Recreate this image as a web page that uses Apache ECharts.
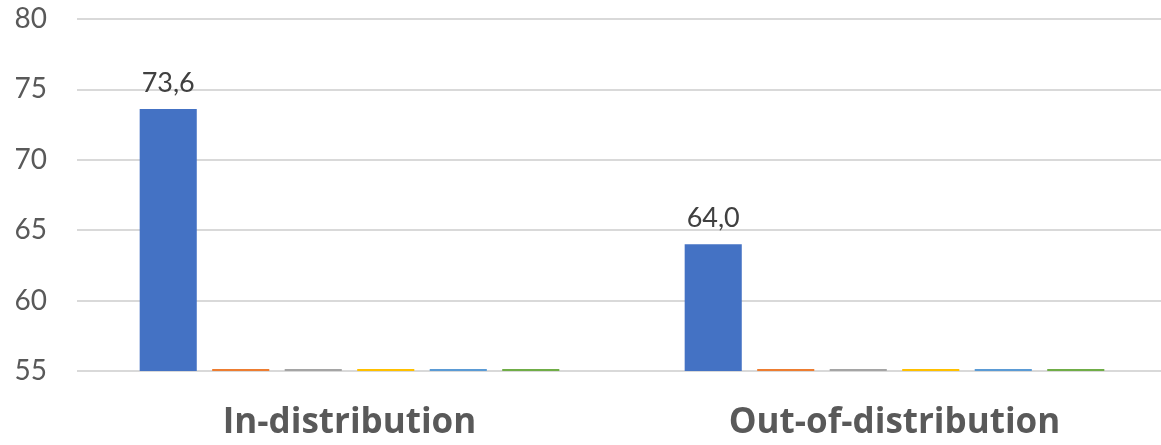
<!DOCTYPE html>
<html><head><meta charset="utf-8">
<script src="https://cdn.jsdelivr.net/npm/echarts@6/dist/echarts.min.js"></script>
<style>html,body{margin:0;padding:0;background:#fff;overflow:hidden}#c{width:1167px;height:445px}</style>
</head><body><div id="c"></div>
<script>
const categories = ['In-distribution', 'Out-of-distribution'];
const seriesA = [73.6, 64.0];
// remaining series sit at/below the axis minimum (drawn as thin lines at the baseline)
const seriesB = [0, 0];
const seriesC = [0, 0];
const seriesD = [0, 0];
const seriesE = [0, 0];
const seriesF = [0, 0];
const yTicks = [55, 60, 65, 70, 75, 80];

const colors = ['#4472C4', '#ED7D31', '#A5A5A5', '#FFC000', '#5B9BD5', '#70AD47'];
const font = 'Lato, "Open Sans", sans-serif';

const chart = echarts.init(document.getElementById('c'), null, {renderer: 'canvas'});
const minor = [seriesB, seriesC, seriesD, seriesE, seriesF].map((d, i) => ({
  type: 'bar', data: d, yAxisIndex: 1, barMinHeight: 2, clip: false,
  itemStyle: {color: colors[i + 1]}, barGap: '27%', barCategoryGap: '23%', z: 3
}));
chart.setOption({
  animation: false,
  grid: {left: 77, right: 0, top: 19, bottom: 74, containLabel: false},
  xAxis: {
    type: 'category', data: categories,
    axisLine: {show: false}, axisTick: {show: false},
    axisLabel: {color: '#595959', fontSize: 35, fontWeight: 'bold', fontFamily: '"Open Sans", sans-serif', margin: 35}
  },
  yAxis: [{
    type: 'value', min: yTicks[0], max: yTicks[yTicks.length - 1], interval: 5,
    axisLine: {show: false}, axisTick: {show: false},
    axisLabel: {color: '#595959', fontSize: 28, fontFamily: font, margin: 30},
    splitLine: {lineStyle: {color: '#D9D9D9', width: 2}}
  }, {
    type: 'value', min: 0, max: 1, show: false, splitLine: {show: false}
  }],
  series: [{
    type: 'bar', data: seriesA, yAxisIndex: 0, barGap: '27%', barCategoryGap: '23%',
    itemStyle: {color: colors[0]},
    label: {show: true, position: 'top', distance: 12, color: '#404040', fontSize: 27, fontFamily: font,
      formatter: p => p.value.toFixed(1).replace('.', ',')}
  }].concat(minor)
});
</script></body></html>
